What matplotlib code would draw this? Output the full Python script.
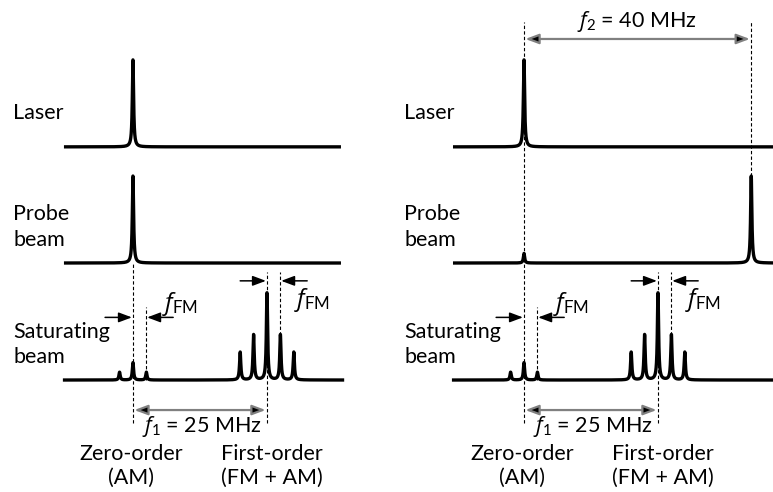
import matplotlib
matplotlib.use('Agg')
import matplotlib.pyplot as plt
import numpy as np

plt.rcParams['font.family'] = ['Lato', 'DejaVu Sans']
plt.rcParams['mathtext.fontset'] = 'custom'
plt.rcParams['mathtext.rm'] = 'Lato'
plt.rcParams['mathtext.it'] = 'Open Sans:italic'

# Schematic spectra (x in MHz as drawn, heights relative to the laser line)
LASER_POS = [0.0]
LASER_HEIGHTS = [1.0]

PROBE_POS_LEFT = [0.0]
PROBE_HEIGHTS_LEFT = [1.0]
PROBE_POS_RIGHT = [0.0, 42.4]
PROBE_HEIGHTS_RIGHT = [0.11, 1.0]

F_FM = 2.5
F1 = 25.0
SAT_POS = [-2.5, 0.0, 2.5, 20.0, 22.5, 25.0, 27.5, 30.0]
SAT_HEIGHTS = [0.09, 0.20, 0.09, 0.32, 0.52, 1.0, 0.52, 0.32]

ROW_NAMES = ["Laser", "Probe\nbeam", "Saturating\nbeam"]
ROW_BASE = [2.68, 1.345, 0.0]

GAMMA = 0.14
FS = 15.5


def lorentz_sum(x, pos, heights):
    y = np.zeros_like(x)
    for p, h in zip(pos, heights):
        y += h * GAMMA**2 / ((x - p)**2 + GAMMA**2)
    return y


def spectrum(ax, x0, x1, base, pos, heights):
    x = np.linspace(x0, x1, 8000)
    ax.plot(x, base + lorentz_sum(x, pos, heights), color='black', lw=2.4,
            solid_capstyle='butt', zorder=3)


def vdash(ax, x, y0, y1):
    ax.plot([x, x], [y0, y1], color='black', lw=0.8, dashes=(3, 2), zorder=2)


def arrow(ax, xs, xe, y):
    ax.annotate('', xy=(xe, y), xytext=(xs, y),
                arrowprops=dict(arrowstyle='-|>,head_length=0.8,head_width=0.3',
                                color='black', lw=1.1, shrinkA=0, shrinkB=0))


def double_arrow(ax, xs, xe, y):
    ax.annotate('', xy=(xe, y), xytext=(xs, y),
                arrowprops=dict(arrowstyle='<|-|>,head_length=0.8,head_width=0.3',
                                ec='#808080', fc='black', lw=1.6, shrinkA=0, shrinkB=0))


def draw_panel(ax, probe_pos, probe_heights, base_x0, base_x1, right):
    ax.set_xlim(-24.8 if not right else -25.75, 47.2 if not right else 46.46)
    ax.set_ylim(-1.287, 4.368)
    ax.axis('off')

    spectrum(ax, base_x0, base_x1, ROW_BASE[0], LASER_POS, LASER_HEIGHTS)
    spectrum(ax, base_x0, base_x1, ROW_BASE[1], probe_pos, probe_heights)
    spectrum(ax, base_x0 - 0.2, base_x1 + 0.6, ROW_BASE[2], SAT_POS, SAT_HEIGHTS)

    for name, yc in zip(ROW_NAMES, [3.07, 1.76, 0.41]):
        ax.text(-22.3, yc, name, fontsize=FS, ha='left', va='center', linespacing=1.35)

    # dashed guides
    if right:
        vdash(ax, 0, -0.49, 4.11)
        vdash(ax, probe_pos[1], ROW_BASE[1] + 1.0, 4.11)
        double_arrow(ax, 0.25, probe_pos[1] - 0.25, 3.92)
        ax.text(21.1, 4.12, r'$f_2$ = 40 MHz', fontsize=FS, ha='center', va='center')
    else:
        vdash(ax, 0, -0.49, ROW_BASE[1])
    vdash(ax, F_FM, 0, 0.84)
    vdash(ax, F1, -0.49, 1.24)
    vdash(ax, F1 + F_FM, 0.52, 1.24)

    # f_FM markers
    arrow(ax, -5.2, -0.2, 0.72)
    arrow(ax, 7.5, F_FM + 0.15, 0.72)
    ax.text(5.4, 0.87, r'$f_{\mathrm{FM}}$', fontsize=FS + 2, ha='left', va='center')
    arrow(ax, 20.0, F1 - 0.2, 1.14)
    arrow(ax, 32.5, F1 + F_FM + 0.15, 1.14)
    ax.text(30.0, 0.92, r'$f_{\mathrm{FM}}$', fontsize=FS + 2, ha='left', va='center')

    # f1 spacing
    double_arrow(ax, 0.25, F1 - 0.25, -0.345)
    ax.text(12.9, -0.53, r'$f_1$ = 25 MHz', fontsize=FS, ha='center', va='center')

    ax.text(-0.4, -0.99, "Zero-order\n(AM)", fontsize=FS, ha='center', va='center',
            linespacing=1.25)
    ax.text(25.9, -0.99, "First-order\n(FM + AM)", fontsize=FS, ha='center', va='center',
            linespacing=1.25)


fig = plt.figure(figsize=(7.73, 4.92), dpi=100)
ax1 = fig.add_axes([0, 0, 386 / 773, 1])
ax2 = fig.add_axes([386 / 773, 0, 387 / 773, 1])

draw_panel(ax1, PROBE_POS_LEFT, PROBE_HEIGHTS_LEFT, -12.87, 38.8, right=False)
draw_panel(ax2, PROBE_POS_RIGHT, PROBE_HEIGHTS_RIGHT, -13.25, 46.5, right=True)

fig.savefig('out.png', dpi=100)
